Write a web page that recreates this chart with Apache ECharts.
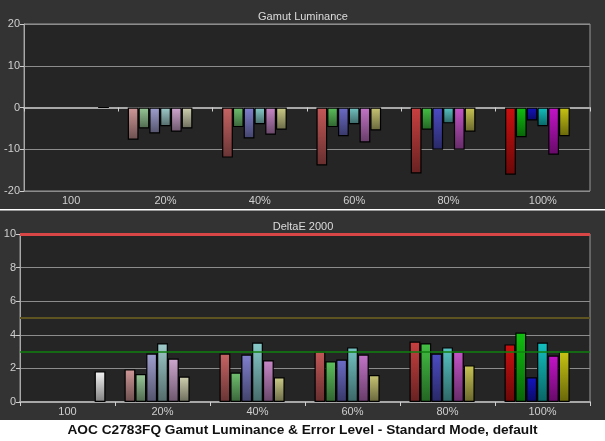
<!DOCTYPE html>
<html>
<head>
<meta charset="utf-8">
<script src="https://cdn.jsdelivr.net/npm/echarts@6/dist/echarts.min.js"></script>
<style>
html,body{margin:0;padding:0;background:#ffffff;}
#chart{width:605px;height:441px;}
</style>
</head>
<body>
<div id="chart"></div>
<script>
// ---- data ----
var categories = ['100', '20%', '40%', '60%', '80%', '100%'];
var lumTicks = [-20, -10, 0, 10, 20];
var deTicks = [0, 2, 4, 6, 8, 10];

// Gamut Luminance (%)
var lumRed     = [null, -7.7, -12.0, -13.9, -15.8, -16.1];
var lumGreen   = [null, -5.0,  -4.7,  -4.7,  -5.3,  -7.1];
var lumBlue    = [null, -6.2,  -7.4,  -6.9, -10.1,  -3.1];
var lumCyan    = [null, -4.5,  -4.0,  -4.0,  -3.8,  -4.5];
var lumMagenta = [null, -5.8,  -6.5,  -8.4, -10.1, -11.3];
var lumYellow  = [null, -5.0,  -5.3,  -5.5,  -5.8,  -6.9];
var lumWhite   = [0, null, null, null, null, null];

// DeltaE 2000
var deRed     = [null, 1.94, 2.89, 3.01, 3.60, 3.43];
var deGreen   = [null, 1.66, 1.76, 2.42, 3.49, 4.14];
var deBlue    = [null, 2.89, 2.83, 2.53, 2.89, 1.47];
var deCyan    = [null, 3.49, 3.54, 3.25, 3.25, 3.54];
var deMagenta = [null, 2.59, 2.48, 2.83, 3.01, 2.77];
var deYellow  = [null, 1.52, 1.47, 1.60, 2.18, 3.01];
var deWhite   = [1.82, null, null, null, null, null];

var deRefLines = [10, 5, 3];

// ---- styles ----
var barColors = [
  [null, '#d09898', '#c86464', '#c45858', '#c84040', '#cc1010'], // red
  [null, '#98c898', '#70c070', '#5cc05c', '#44c044', '#10c010'], // green
  [null, '#a0a0d0', '#8080d0', '#6c6cc8', '#4c4cc4', '#1414c0'], // blue
  [null, '#a0cccc', '#88cccc', '#74c4c4', '#58c4c4', '#14c0c0'], // cyan
  [null, '#d0a8d0', '#c888c8', '#c474c8', '#c454c8', '#c414c8'], // magenta
  [null, '#d0d0b0', '#cccc88', '#c8c474', '#c8c454', '#c8c414'], // yellow
  ['#f4f4f4', null, null, null, null, null]                       // white
];
var refLineStyles = [
  {color: '#d84646', width: 3},
  {color: '#5e5422', width: 2},
  {color: '#118011', width: 1.5}
];

function darken(hex, f) {
  var r = parseInt(hex.substr(1, 2), 16), g = parseInt(hex.substr(3, 2), 16), b = parseInt(hex.substr(5, 2), 16);
  return 'rgb(' + Math.round(r * f) + ',' + Math.round(g * f) + ',' + Math.round(b * f) + ')';
}
function grad(c) {
  return new echarts.graphic.LinearGradient(0, 0, 0, 1, [
    {offset: 0, color: c},
    {offset: 1, color: darken(c, 0.52)}
  ]);
}

function buildSeries(arrays, axisIdx) {
  return arrays.map(function (arr, s) {
    return {
      type: 'bar',
      xAxisIndex: axisIdx,
      yAxisIndex: axisIdx,
      barGap: '0%',
      barCategoryGap: '20%',
      data: arr.map(function (v, i) {
        if (v === null) return null;
        return {value: v, itemStyle: {color: grad(barColors[s][i]), borderColor: '#000', borderWidth: 1.2}};
      })
    };
  });
}

var topSeries = buildSeries([lumRed, lumGreen, lumBlue, lumCyan, lumMagenta, lumYellow, lumWhite], 0);
var botSeries = buildSeries([deRed, deGreen, deBlue, deCyan, deMagenta, deYellow, deWhite], 1);
botSeries[0].markLine = {
  silent: true,
  symbol: 'none',
  label: {show: false},
  z: 10,
  data: deRefLines.map(function (v, i) { return {yAxis: v, lineStyle: Object.assign({type: 'solid'}, refLineStyles[i])}; })
};

var axisLabelStyle = {color: '#cfcfcf', fontSize: 11, fontFamily: 'Liberation Sans'};

function xAxisCfg(gridIndex) {
  return {
    type: 'category', gridIndex: gridIndex, data: categories,
    axisLine: {show: true, lineStyle: {color: '#a8a8a8', width: 2}},
    axisTick: {show: true, length: 4, lineStyle: {color: '#cfcfcf'}},
    axisLabel: Object.assign({margin: 4}, axisLabelStyle),
    splitLine: {show: false}
  };
}
function yAxisCfg(gridIndex, ticks) {
  return {
    type: 'value', gridIndex: gridIndex,
    min: ticks[0], max: ticks[ticks.length - 1], interval: ticks[1] - ticks[0],
    axisLine: {show: true, lineStyle: {color: '#a8a8a8', width: 1}},
    axisTick: {show: true, length: 4, lineStyle: {color: '#cfcfcf'}},
    axisLabel: Object.assign({margin: 4}, axisLabelStyle),
    splitLine: {show: true, lineStyle: {color: '#8c8c8c', width: 1}}
  };
}

var chart = echarts.init(document.getElementById('chart'), null, {renderer: 'canvas'});
chart.setOption({
  animation: false,
  backgroundColor: '#333333',
  title: [
    {text: 'Gamut Luminance', left: 298, top: 6, textAlign: 'center',
     textStyle: {color: '#dcdcdc', fontSize: 11, fontWeight: 'normal', fontFamily: 'Liberation Sans'}},
    {text: 'DeltaE 2000', left: 298, top: 216, textAlign: 'center',
     textStyle: {color: '#dcdcdc', fontSize: 11, fontWeight: 'normal', fontFamily: 'Liberation Sans'}}
  ],
  grid: [
    {left: 24, right: 15, top: 24, height: 167, show: true, backgroundColor: '#252525', borderColor: '#9a9a9a', borderWidth: 1},
    {left: 20, right: 15, top: 234, height: 168, show: true, backgroundColor: '#252525', borderColor: '#9a9a9a', borderWidth: 1}
  ],
  xAxis: [xAxisCfg(0), xAxisCfg(1)],
  yAxis: [yAxisCfg(0, lumTicks), yAxisCfg(1, deTicks)],
  series: topSeries.concat(botSeries),
  graphic: [
    {type: 'rect', left: 0, top: 420, shape: {width: 605, height: 21}, style: {fill: '#ffffff'}, z: 0},
    {type: 'rect', left: 0, top: 209, shape: {width: 605, height: 1.5}, style: {fill: '#ffffff'}, z: 0},
    {type: 'text', left: 'center', top: 423,
     style: {text: 'AOC C2783FQ Gamut Luminance & Error Level - Standard Mode, default',
             fill: '#111111', font: 'bold 13.7px "Liberation Sans"'}}
  ]
});
</script>
</body>
</html>
